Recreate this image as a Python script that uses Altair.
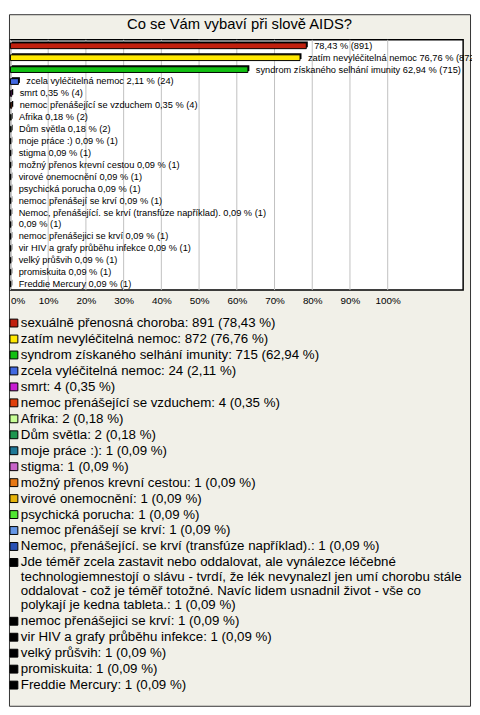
import textwrap
import altair as alt
import pandas as pd

# ---------------- data ----------------
title_text = "Co se Vám vybaví při slově AIDS?"

categories = [
    "sexuálně přenosná choroba",
    "zatím nevyléčitelná nemoc",
    "syndrom získaného selhání imunity",
    "zcela vyléčitelná nemoc",
    "smrt",
    "nemoc přenášející se vzduchem",
    "Afrika",
    "Dům světla",
    "moje práce :)",
    "stigma",
    "možný přenos krevní cestou",
    "virové onemocnění",
    "psychická porucha",
    "nemoc přenášejí se krví",
    "Nemoc, přenášející. se krví (transfúze například).",
    "Jde téměř zcela zastavit nebo oddalovat, ale vynálezce léčebné "
    "technologiemnestojí o slávu - tvrdí, že lék nevynalezl jen umí chorobu stále "
    "oddalovat - což je téměř totožné. Navíc lidem usnadnil život - vše co "
    "polykají je kedna tableta.",
    "nemoc přenášejici se krví",
    "vir HIV a grafy průběhu infekce",
    "velký průšvih",
    "promiskuita",
    "Freddie Mercury",
]
counts = [891, 872, 715, 24, 4, 4, 2, 2, 1, 1, 1, 1, 1, 1, 1, 1, 1, 1, 1, 1, 1]
percents = [78.43, 76.76, 62.94, 2.11, 0.35, 0.35, 0.18, 0.18, 0.09, 0.09, 0.09,
            0.09, 0.09, 0.09, 0.09, 0.09, 0.09, 0.09, 0.09, 0.09, 0.09]
colors = ["#C0200E", "#FFE800", "#12C012", "#4169E1", "#C81ED2", "#E0400A",
          "#C8FF96", "#1E9650", "#1E7896", "#C864C8", "#E67814", "#E6B40A",
          "#50E632", "#6496E6", "#2850B4", "#000000", "#000000", "#000000",
          "#000000", "#000000", "#000000"]
bar_label_hidden_names = [0, 15]   # the bar labels of these rows show no name
tick_values = [0, 10, 20, 30, 40, 50, 60, 70, 80, 90, 100]

# ---------------- styling ----------------
FONT = "Liberation Sans"
BG = "#F1F0E8"
VIEW_W, VIEW_H = 468, 702
X_RANGE = [1.5, 461]
Y_RANGE = [26, 280]
LEG_TOP = 313.5
ITEM_STEP = 16.2      # px between legend entries
WRAP_STEP = 14.5      # px between wrapped lines of one entry


def fmt(p):
    return f"{p:.2f}".replace(".", ",")


rows = []
for i, (name, c, p, col) in enumerate(zip(categories, counts, percents, colors)):
    shown = "" if i in bar_label_hidden_names else name + " "
    rows.append(dict(i=i, name=name, pct=p, cnt=c, color=col, zero=0,
                     y0=i - 0.24, y1=i + 0.24,
                     label=f"{shown}{fmt(p)} % ({c})"))
df = pd.DataFrame(rows)

leg_rows = []
slot = 0.0
for i, (name, c, p, col) in enumerate(zip(categories, counts, percents, colors)):
    text = f"{name}: {c} ({fmt(p)} %)"
    lines = textwrap.wrap(text, width=76)
    for j, ln in enumerate(lines):
        if j > 0:
            slot += WRAP_STEP / ITEM_STEP
        leg_rows.append(dict(slot=slot, text=ln, color=col, sq=(j == 0)))
    slot += 1
leg = pd.DataFrame(leg_rows)
slot_max = leg["slot"].max()

grid_df = pd.DataFrame({"t": tick_values, "y0": -0.5, "y1": len(categories) - 0.5})
bg_df = pd.DataFrame({"x0": [0], "x1": [120], "y0": [-0.5], "y1": [len(categories) - 0.5]})

XS = alt.Scale(domain=[0, 120], range=X_RANGE, nice=False, zero=False)
YS = alt.Scale(domain=[-0.5, len(categories) - 0.5], range=Y_RANGE, nice=False, zero=False)
X_AXIS = alt.Axis(values=tick_values, labelExpr="datum.value + '%'", title=None,
                  offset=Y_RANGE[1] - VIEW_H, domain=False, ticks=False, grid=False,
                  labelPadding=6, labelFontSize=10, labelFont=FONT, labelColor="black",
                  labelFlush=True)


def X(field):
    return alt.X(field, type="quantitative", scale=XS, axis=X_AXIS)


def Y(field):
    return alt.Y(field, type="quantitative", scale=YS, axis=None)


plot_bg = alt.Chart(bg_df).mark_rect(fill="white", stroke="black", strokeWidth=1.5).encode(
    x=X("x0"), x2="x1", y=Y("y0"), y2="y1")

grid = alt.Chart(grid_df).mark_rule(color="#C0C0C0", strokeWidth=1).encode(
    x=X("t"), y=Y("y0"), y2="y1")

shadow = alt.Chart(df).mark_rect(color="black", xOffset=1.5, x2Offset=1.5,
                                  yOffset=-1.5, y2Offset=-1.5).encode(
    x=X("zero"), x2="pct", y=Y("y0"), y2="y1")

bars = alt.Chart(df).mark_rect(stroke="black", strokeWidth=1).encode(
    x=X("zero"), x2="pct", y=Y("y0"), y2="y1",
    color=alt.Color("color:N", scale=None, legend=None))

bar_text = alt.Chart(df).mark_text(align="left", baseline="middle", dx=8, fontSize=9.4,
                                   font=FONT, color="black").encode(
    x=X("pct"), y=Y("i"), text="label:N")

plot = alt.layer(plot_bg, grid, shadow, bars, bar_text)

LS = alt.Scale(domain=[0, slot_max], range=[LEG_TOP, LEG_TOP + slot_max * ITEM_STEP],
               nice=False, zero=False)
leg_sq = alt.Chart(leg).transform_filter("datum.sq").mark_square(
    size=64, filled=True, stroke="black", strokeWidth=1, opacity=1).encode(
    x=alt.value(5), y=alt.Y("slot:Q", scale=LS, axis=None),
    fill=alt.Fill("color:N", scale=None, legend=None))
leg_txt = alt.Chart(leg).mark_text(align="left", baseline="middle", fontSize=13.5,
                                   font=FONT, color="black").encode(
    x=alt.value(12), y=alt.Y("slot:Q", scale=LS, axis=None), text="text:N")
legend = alt.layer(leg_sq, leg_txt)

chart = alt.layer(plot, legend).resolve_scale(y="independent").properties(
    width=VIEW_W, height=VIEW_H,
    autosize=alt.AutoSizeParams(type="none"),
    padding={"left": 1, "top": 1, "right": 2, "bottom": 1},
    background="white",
    title=alt.TitleParams(title_text, anchor="middle", fontSize=15, font=FONT,
                          fontWeight="normal", color="black", baseline="alphabetic",
                          offset=0, dy=30),
).configure_view(fill=BG, stroke="#333333", strokeWidth=1)

chart.save("out.html", embed_options={"renderer": "svg", "actions": False})
